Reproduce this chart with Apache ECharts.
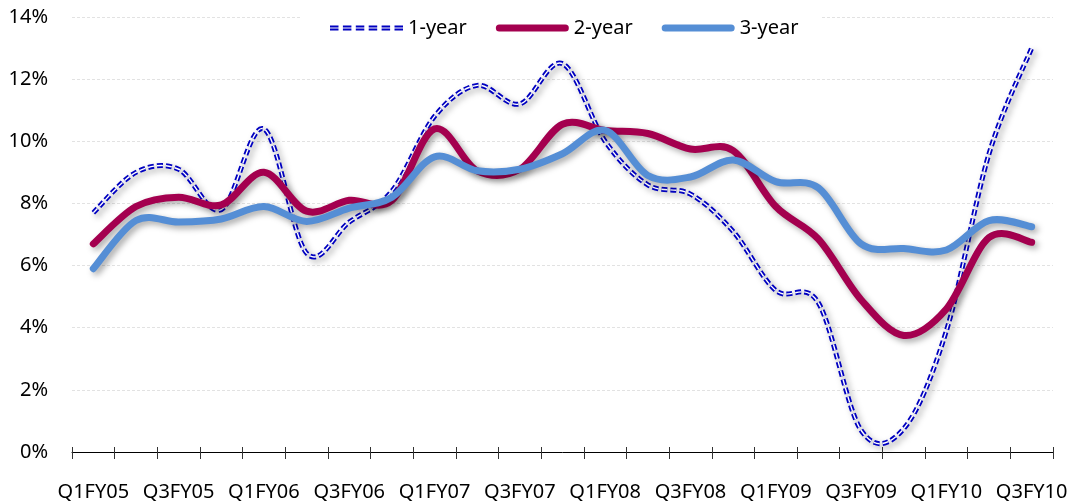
<!DOCTYPE html>
<html>
<head>
<meta charset="utf-8">
<script src="https://cdn.jsdelivr.net/npm/echarts@6/dist/echarts.min.js"></script>
<style>
  html, body { margin: 0; padding: 0; background: #fff; }
  #chart { width: 1073px; height: 504px; }
</style>
</head>
<body>
<div id="chart"></div>
<script>
// Quarterly categories, Q1FY05 .. Q3FY10
const quarters = [
  'Q1FY05','Q2FY05','Q3FY05','Q4FY05',
  'Q1FY06','Q2FY06','Q3FY06','Q4FY06',
  'Q1FY07','Q2FY07','Q3FY07','Q4FY07',
  'Q1FY08','Q2FY08','Q3FY08','Q4FY08',
  'Q1FY09','Q2FY09','Q3FY09','Q4FY09',
  'Q1FY10','Q2FY10','Q3FY10'
];

// Values in percent
const oneYear = [7.7, 9.0, 9.1, 7.8, 10.4, 6.4, 7.4, 8.4, 10.8, 11.8, 11.2, 12.5,
                 10.0, 8.6, 8.3, 7.1, 5.2, 4.8, 0.7, 0.75, 3.9, 9.6, 13.0];
const twoYear = [6.7, 7.9, 8.2, 7.95, 9.0, 7.75, 8.1, 8.1, 10.4, 9.05, 9.1, 10.55,
                 10.35, 10.25, 9.75, 9.7, 7.9, 6.85, 4.9, 3.75, 4.6, 6.9, 6.75];
const threeYear = [5.9, 7.45, 7.4, 7.5, 7.9, 7.42, 7.85, 8.2, 9.5, 9.05, 9.1, 9.6,
                   10.35, 8.9, 8.85, 9.4, 8.7, 8.5, 6.7, 6.55, 6.5, 7.45, 7.25];

const yTicks = { min: 0, max: 14, step: 2 };

const FONT = '"Noto Sans", "DejaVu Sans", sans-serif';
const BLUE = '#0000C0';
const CRIMSON = '#A4004F';
const SKY = '#558ED5';

const shadow = {
  shadowColor: 'rgba(0,0,0,0.35)',
  shadowBlur: 6,
  shadowOffsetX: 3,
  shadowOffsetY: 3
};

// Legend icon: a double dashed stroke (73 x 5)
function doubleDashIcon() {
  const n = 6, dash = 8.5, gap = (73 - n * dash) / (n - 1);
  let p = 'path://';
  for (let i = 0; i < n; i++) {
    const x = (i * (dash + gap)).toFixed(2);
    p += 'M' + x + ',0h' + dash + 'v1.9h-' + dash + 'z';
    p += 'M' + x + ',3.1h' + dash + 'v1.9h-' + dash + 'z';
  }
  return p;
}
// Legend icon: thick stroke with rounded ends (73 x 7)
const capsuleIcon = 'path://M3.5,0H69.5A3.5,3.5,0,0,1,69.5,7H3.5A3.5,3.5,0,0,1,3.5,0Z';

// Catmull-Rom spline through the projected points, as cubic Bezier segments
function splinePath(pts) {
  let d = 'M' + pts[0][0] + ',' + pts[0][1];
  for (let i = 0; i < pts.length - 1; i++) {
    const p0 = pts[Math.max(i - 1, 0)];
    const p1 = pts[i];
    const p2 = pts[i + 1];
    const p3 = pts[Math.min(i + 2, pts.length - 1)];
    const c1x = p1[0] + (p2[0] - p0[0]) / 6;
    const c1y = p1[1] + (p2[1] - p0[1]) / 6;
    const c2x = p2[0] - (p3[0] - p1[0]) / 6;
    const c2y = p2[1] - (p3[1] - p1[1]) / 6;
    d += 'C' + c1x + ',' + c1y + ',' + c2x + ',' + c2y + ',' + p2[0] + ',' + p2[1];
  }
  return d;
}

// A smoothed line drawn as one path; points come from the axes via api.coord
function curveSeries(name, values, color, style, z) {
  return {
    name: name,
    type: 'custom',
    z: z,
    silent: true,
    data: values.map((v, i) => [i, v]),
    encode: { x: 0, y: 1 },
    itemStyle: { color: color },
    renderItem: function (params, api) {
      if (params.dataIndex !== 0) return null;
      const pts = values.map((v, i) => api.coord([i, v]));
      return {
        type: 'path',
        shape: { pathData: splinePath(pts) },
        style: Object.assign({ fill: null, stroke: color }, style)
      };
    }
  };
}

const chart = echarts.init(document.getElementById('chart'), null, { renderer: 'canvas' });

chart.setOption({
  backgroundColor: '#ffffff',
  animation: false,
  textStyle: { fontFamily: FONT },
  grid: { left: 72, right: 20, top: 17, bottom: 52, containLabel: false },
  legend: {
    left: 302,
    top: 8,
    padding: [10, 22, 10, 28],
    backgroundColor: '#ffffff',
    itemWidth: 73,
    itemHeight: 7,
    itemGap: 29,
    textStyle: { fontFamily: FONT, fontSize: 20, color: '#000' },
    data: [
      { name: '1-year', icon: doubleDashIcon(), itemStyle: { color: BLUE, borderWidth: 0 } },
      { name: '2-year', icon: capsuleIcon, itemStyle: { color: CRIMSON, borderWidth: 0 } },
      { name: '3-year', icon: capsuleIcon, itemStyle: { color: SKY, borderWidth: 0 } }
    ]
  },
  xAxis: [
    {
      type: 'category',
      data: quarters,
      boundaryGap: true,
      position: 'bottom',
      axisLine: { show: true, lineStyle: { color: '#000', width: 1 } },
      axisTick: { show: true, interval: 0, length: 7, lineStyle: { color: '#333' } },
      axisLabel: {
        interval: 1,
        margin: 30,
        fontFamily: FONT,
        fontSize: 20,
        color: '#000'
      },
      splitLine: { show: false }
    },
    {
      // inward half of the crossing tick marks
      type: 'category',
      data: quarters,
      boundaryGap: true,
      position: 'bottom',
      axisLine: { show: false },
      axisTick: { show: true, inside: true, interval: 0, length: 5, lineStyle: { color: '#333' } },
      axisLabel: { show: false },
      splitLine: { show: false }
    }
  ],
  yAxis: {
    type: 'value',
    min: yTicks.min,
    max: yTicks.max,
    interval: yTicks.step,
    axisLine: { show: false },
    axisTick: { show: false },
    axisLabel: {
      formatter: '{value}%',
      margin: 24,
      fontFamily: FONT,
      fontSize: 20,
      color: '#000'
    },
    splitLine: { show: true, lineStyle: { color: '#e2e2e2', width: 1, type: [3, 2] } }
  },
  series: [
    curveSeries('1-year', oneYear, BLUE,
      Object.assign({ lineWidth: 5, lineDash: [6, 3], lineCap: 'butt' }, shadow), 2),
    // white core that splits the 1-year stroke into a double line
    curveSeries('1-year core', oneYear, '#ffffff',
      { lineWidth: 1.4, lineDash: [6, 3], lineCap: 'butt' }, 3),
    curveSeries('2-year', twoYear, CRIMSON,
      Object.assign({ lineWidth: 7, lineCap: 'round', lineJoin: 'round' }, shadow), 4),
    curveSeries('3-year', threeYear, SKY,
      Object.assign({ lineWidth: 7, lineCap: 'round', lineJoin: 'round' }, shadow), 5)
  ]
});
</script>
</body>
</html>
